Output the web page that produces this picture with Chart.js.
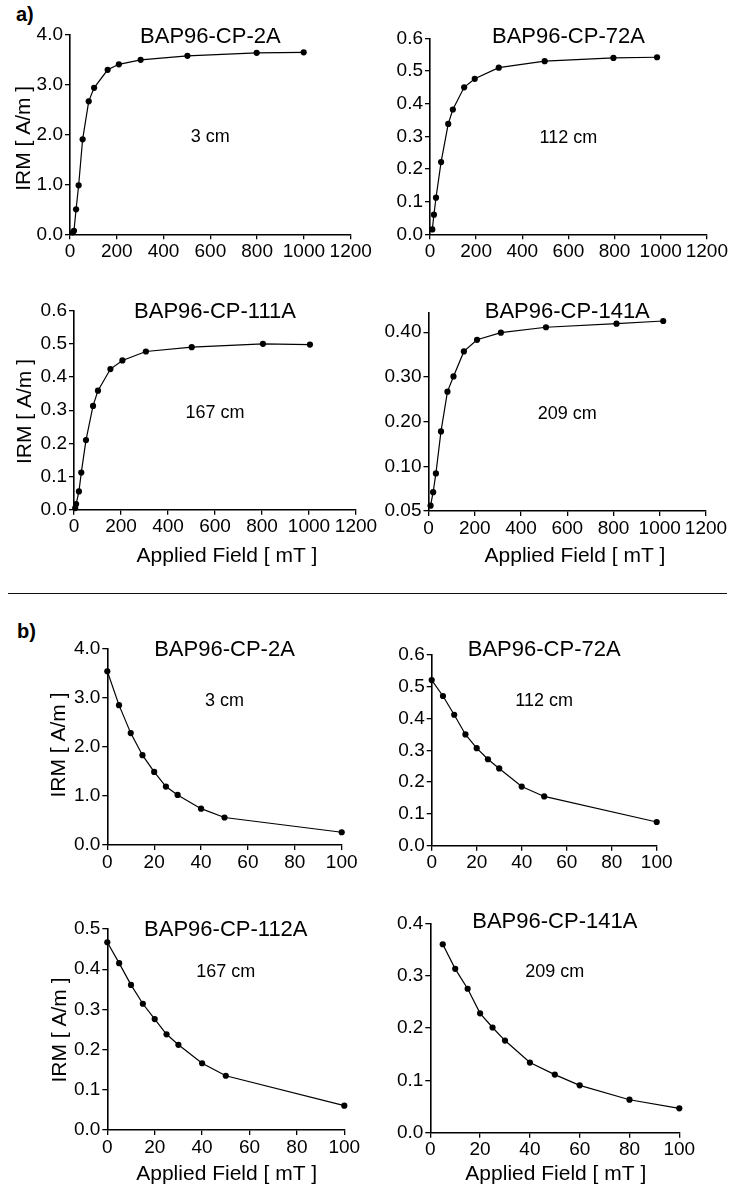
<!DOCTYPE html>
<html><head><meta charset="utf-8">
<script src="https://cdn.jsdelivr.net/npm/chart.js@4.4.0/dist/chart.umd.min.js"></script>
<style>
html,body{margin:0;padding:0;background:#fff;}
#wrap{position:relative;width:729px;height:1186px;overflow:hidden;background:#fff;}
#wrap canvas{position:absolute;left:0;top:0;}
.lbl{position:absolute;font-family:'Liberation Sans',Arial,Helvetica,sans-serif;font-weight:bold;font-size:20px;line-height:20px;color:#000;}
#sep{position:absolute;left:8px;top:592.5px;width:719px;height:0;border-top:1.5px solid #111;}
</style></head><body>
<div id="wrap">
<div class="lbl" style="left:16px;top:4px;">a)</div>
<div class="lbl" style="left:17px;top:620.5px;">b)</div>
<div id="sep"></div>
</div>
<script>
const FONT = "'Liberation Sans', Arial, Helvetica, sans-serif";

// ---- data (a: IRM acquisition, b: back-field demagnetisation) ----
const a1Field = [12, 17, 26, 37, 54, 80, 103, 161, 209, 302, 502, 798, 999];
const a1IRM   = [0.04, 0.07, 0.50, 0.98, 1.90, 2.66, 2.93, 3.29, 3.40, 3.49, 3.57, 3.63, 3.64];
const a2Field = [10, 17, 26, 48, 79, 99, 148, 194, 298, 497, 795, 984];
const a2IRM   = [0.015, 0.060, 0.112, 0.221, 0.338, 0.382, 0.450, 0.476, 0.510, 0.530, 0.540, 0.542];
const a3Field = [5, 9, 21, 31, 51, 81, 102, 155, 206, 306, 501, 804, 1004];
const a3IRM   = [0.005, 0.017, 0.055, 0.112, 0.210, 0.313, 0.359, 0.424, 0.450, 0.477, 0.490, 0.500, 0.498];
const a4Field = [9, 20, 32, 54, 82, 108, 153, 210, 313, 508, 813, 1015];
const a4IRM   = [0.012, 0.042, 0.084, 0.178, 0.267, 0.301, 0.357, 0.383, 0.399, 0.411, 0.419, 0.425];

const b1Field = [0, 5, 10, 15, 20, 25, 30, 40, 50, 100];
const b1IRM   = [3.54, 2.85, 2.28, 1.83, 1.49, 1.19, 1.02, 0.74, 0.56, 0.26];
const b2Field = [0, 5, 10, 15, 20, 25, 30, 40, 50, 100];
const b2IRM   = [0.521, 0.471, 0.412, 0.350, 0.307, 0.272, 0.243, 0.186, 0.155, 0.0745];
const b3Field = [0, 5, 10, 15, 20, 25, 30, 40, 50, 100];
const b3IRM   = [0.467, 0.415, 0.361, 0.314, 0.276, 0.238, 0.212, 0.166, 0.135, 0.0605];
const b4Field = [5, 10, 15, 20, 25, 30, 40, 50, 60, 80, 100];
const b4IRM   = [0.360, 0.313, 0.275, 0.228, 0.201, 0.176, 0.134, 0.111, 0.0905, 0.063, 0.0465];

// ---- tick values / labels ----
const xTicksA  = [0, 200, 400, 600, 800, 1000, 1200];
const xLabelsA = ["0", "200", "400", "600", "800", "1000", "1200"];
const xTicksB  = [0, 20, 40, 60, 80, 100];
const xLabelsB = ["0", "20", "40", "60", "80", "100"];
const yTicks4  = [0, 1, 2, 3, 4];
const yLabels4 = ["0.0", "1.0", "2.0", "3.0", "4.0"];
const yTicks06  = [0, 0.1, 0.2, 0.3, 0.4, 0.5, 0.6];
const yLabels06 = ["0.0", "0.1", "0.2", "0.3", "0.4", "0.5", "0.6"];
const yTicks05  = [0, 0.1, 0.2, 0.3, 0.4, 0.5];
const yLabels05 = ["0.0", "0.1", "0.2", "0.3", "0.4", "0.5"];
const yTicks04  = [0, 0.1, 0.2, 0.3, 0.4];
const yLabels04 = ["0.0", "0.1", "0.2", "0.3", "0.4"];
const yLabelsA4 = ["0.05", "0.10", "0.20", "0.30", "0.40"];

// ---- texts ----
const sampleNames = ["BAP96-CP-2A", "BAP96-CP-72A", "BAP96-CP-111A", "BAP96-CP-141A",
                     "BAP96-CP-2A", "BAP96-CP-72A", "BAP96-CP-112A", "BAP96-CP-141A"];
const depths = ["3 cm", "112 cm", "167 cm", "209 cm", "3 cm", "112 cm", "167 cm", "209 cm"];
const yAxisTitle = "IRM [ A/m ]";
const xAxisTitle = "Applied Field [ mT ]";

// ---- panel layout (page pixel boxes: left, right, top, bottom) ----
const panels = [
  {fx:a1Field, fy:a1IRM, xt:xTicksA, xl:xLabelsA, yt:yTicks4,  yl:yLabels4,  xmax:1200, ymax:4,      box:[70, 350.7, 34.3, 234.3],   tY:42.7,  nY:142.3, yT:[29.5, 138.3]},
  {fx:a2Field, fy:a2IRM, xt:xTicksA, xl:xLabelsA, yt:yTicks06, yl:yLabels06, xmax:1200, ymax:0.6,    box:[430, 707.7, 38.3, 234.3],  tY:42.7,  nY:143.3},
  {fx:a3Field, fy:a3IRM, xt:xTicksA, xl:xLabelsA, yt:yTicks06, yl:yLabels06, xmax:1200, ymax:0.6,    box:[74, 356, 310.7, 509.7],    tY:317.7, nY:418.3, yT:[31, 411.5], xT:[227, 562]},
  {fx:a4Field, fy:a4IRM, xt:xTicksA, xl:xLabelsA, yt:yTicks04, yl:yLabelsA4, xmax:1200, ymax:0.4436, box:[428.5, 706, 312.7, 511],   tY:318.3, nY:419.3, xT:[575, 562]},
  {fx:b1Field, fy:b1IRM, xt:xTicksB, xl:xLabelsB, yt:yTicks4,  yl:yLabels4,  xmax:100,  ymax:4,      box:[107.3, 341.7, 648.7, 845], tY:656,   nY:705.7, yT:[65, 745]},
  {fx:b2Field, fy:b2IRM, xt:xTicksB, xl:xLabelsB, yt:yTicks06, yl:yLabels06, xmax:100,  ymax:0.6,    box:[431.7, 656.7, 655, 845.7], tY:656,   nY:705.7},
  {fx:b3Field, fy:b3IRM, xt:xTicksB, xl:xLabelsB, yt:yTicks05, yl:yLabels05, xmax:100,  ymax:0.5,    box:[107.3, 344.3, 929, 1130],  tY:936,   nY:976.7, yT:[65.5, 1030], xT:[226.7, 1179.5]},
  {fx:b4Field, fy:b4IRM, xt:xTicksB, xl:xLabelsB, yt:yTicks04, yl:yLabels04, xmax:100,  ymax:0.4,    box:[430.3, 679.3, 923.3, 1132.7], tY:928.3, nY:976.7, xT:[555.8, 1179.5]}
];

const W = 729, H = 1186, YW = 60, XH = 40;

const textPlugin = {
  id: 'panelText',
  afterDraw(chart, args, o) {
    const ctx = chart.ctx, ca = chart.chartArea;
    const cx = (ca.left + ca.right) / 2;
    ctx.save();
    ctx.fillStyle = '#000';
    ctx.textAlign = 'center';
    ctx.textBaseline = 'alphabetic';
    ctx.font = '22px ' + FONT;
    ctx.fillText(o.title, cx, o.titleY);
    ctx.font = '18px ' + FONT;
    ctx.fillText(o.note, cx, o.noteY);
    ctx.font = '21px ' + FONT;
    if (o.xTitle) ctx.fillText(o.xTitle, o.xTitlePos[0], o.xTitlePos[1]);
    if (o.yTitle) {
      ctx.translate(o.yTitlePos[0], o.yTitlePos[1]);
      ctx.rotate(-Math.PI / 2);
      ctx.fillText(o.yTitle, 0, 0);
    }
    ctx.restore();
  }
};

const wrap = document.getElementById('wrap');
panels.forEach((p, i) => {
  const cv = document.createElement('canvas');
  cv.width = W; cv.height = H;
  cv.style.width = W + 'px'; cv.style.height = H + 'px';
  wrap.appendChild(cv);
  const [L, R, T, B] = p.box;
  const pts = p.fx.map((x, k) => ({x: x, y: p.fy[k]}));
  new Chart(cv, {
    type: 'scatter',
    data: {datasets: [{
      data: pts,
      showLine: true,
      borderColor: '#000',
      borderWidth: 1.2,
      backgroundColor: '#000',
      pointRadius: 3.1,
      pointBorderWidth: 0,
      pointBackgroundColor: '#000',
      tension: 0,
      clip: false
    }]},
    options: {
      responsive: false,
      animation: false,
      devicePixelRatio: 1,
      layout: {padding: {left: L - YW, right: W - R, top: T, bottom: H - B - XH}},
      plugins: {
        legend: {display: false},
        tooltip: {enabled: false},
        panelText: {
          title: sampleNames[i], titleY: p.tY,
          note: depths[i], noteY: p.nY,
          yTitle: p.yT ? yAxisTitle : null, yTitlePos: p.yT,
          xTitle: p.xT ? xAxisTitle : null, xTitlePos: p.xT
        }
      },
      scales: {
        x: {
          type: 'linear', min: 0, max: p.xmax,
          afterBuildTicks: s => { s.ticks = p.xt.map(v => ({value: v})); },
          afterFit: s => { s.height = XH; },
          ticks: {callback: (v, k) => p.xl[k], color: '#000', font: {family: FONT, size: 19}, padding: 1, maxRotation: 0, autoSkip: false},
          grid: {drawOnChartArea: false, drawTicks: true, tickLength: 5, color: '#000', lineWidth: 1.3},
          border: {display: true, color: '#000', width: 1.6}
        },
        y: {
          type: 'linear', min: 0, max: p.ymax,
          afterBuildTicks: s => { s.ticks = p.yt.map(v => ({value: v})); },
          afterFit: s => { s.width = YW; },
          ticks: {callback: (v, k) => p.yl[k], color: '#000', font: {family: FONT, size: 19}, padding: 2, autoSkip: false},
          grid: {drawOnChartArea: false, drawTicks: true, tickLength: 5, color: '#000', lineWidth: 1.3},
          border: {display: true, color: '#000', width: 1.6}
        }
      }
    },
    plugins: [textPlugin]
  });
});
</script>
</body></html>
